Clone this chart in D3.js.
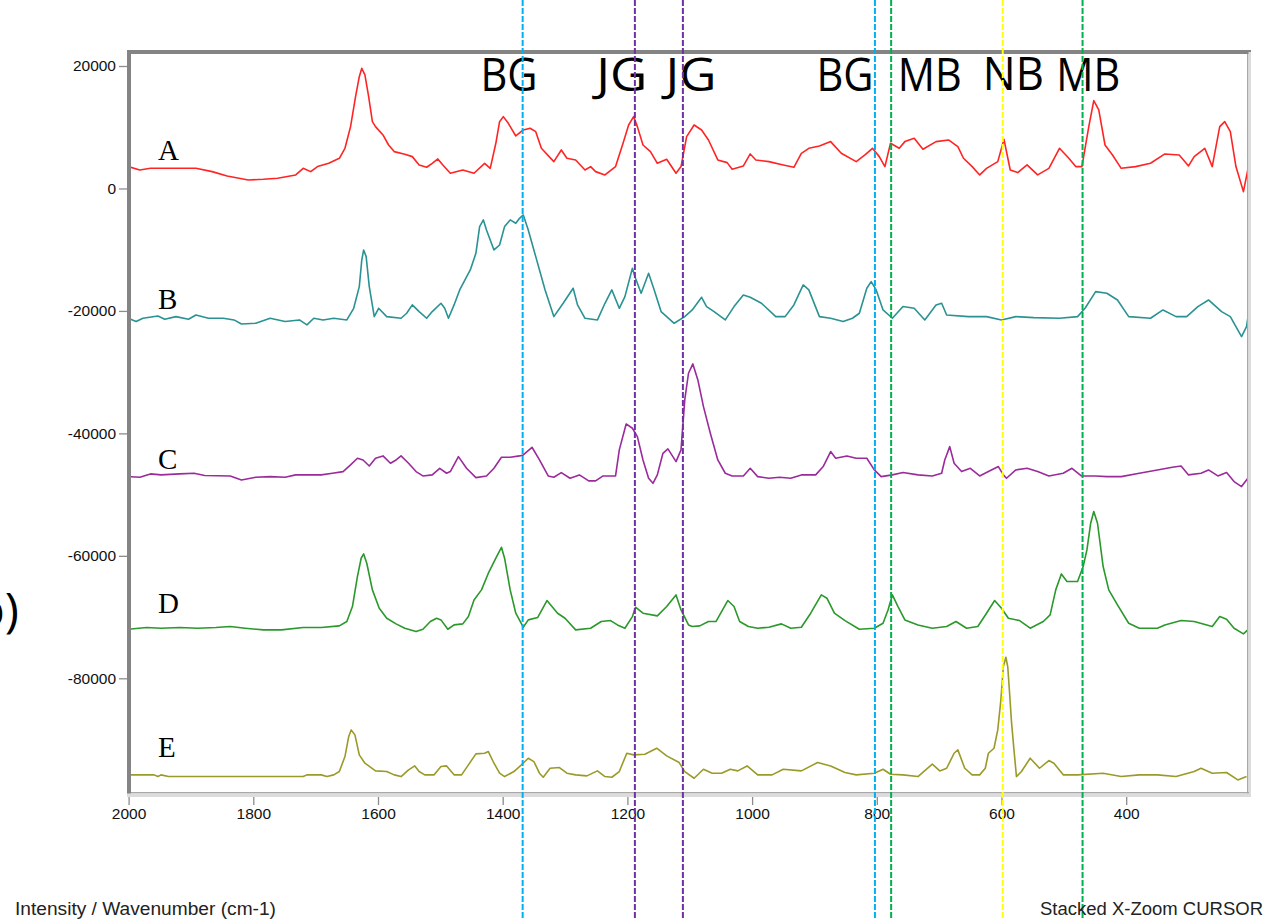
<!DOCTYPE html>
<html>
<head>
<meta charset="utf-8">
<script src="https://cdn.jsdelivr.net/npm/d3@7"></script>
<style>
  body { margin: 0; background: #fff; }
  svg { display: block; }
</style>
</head>
<body>
<svg id="chart"></svg>
<script>
"use strict";

// Spectra, [wavenumber (cm-1), intensity]
const specA = [
  [2000,3570],[1982,3020],[1965,3290],[1942,3290],[1918,3290],[1892,3290],[1866,2750],[1842,2040],[1808,1390],[1784,1500],
  [1761,1660],[1732,2210],[1720,3290],[1708,2750],[1697,3570],[1679,4110],[1662,4930],[1653,6560],[1644,10100],[1636,15000],
  [1630,18260],[1626,19620],[1621,18540],[1615,15000],[1609,10910],[1604,10100],[1592,8740],[1583,7100],[1574,6020],[1557,5580],
  [1545,5200],[1534,3840],[1522,3460],[1513,4110],[1504,4820],[1496,3840],[1484,2480],[1464,3020],[1446,2480],[1429,4110],
  [1420,3290],[1411,7380],[1405,10910],[1399,11730],[1391,10640],[1379,8570],[1367,9550],[1356,9830],[1347,9280],[1338,6560],
  [1318,4380],[1306,6290],[1297,4930],[1283,4660],[1268,3020],[1259,3570],[1251,2750],[1236,2210],[1219,3570],[1207,7380],
  [1198,10370],[1190,11730],[1184,10100],[1175,7100],[1163,6020],[1152,4110],[1137,4760],[1122,2480],[1114,3570],[1105,8470],
  [1093,10370],[1081,9550],[1070,7920],[1055,4660],[1040,4220],[1032,3130],[1014,3680],[1003,5640],[994,4660],[973,4380],
  [950,3840],[933,3460],[921,5740],[909,6560],[892,6940],[874,7650],[857,5740],[833,4380],[819,5470],[807,6560],
  [796,5200],[787,3570],[778,7380],[764,6560],[755,7650],[740,8190],[726,6400],[705,7650],[685,7920],[670,6830],
  [661,4930],[647,3570],[635,2210],[624,3290],[606,4380],[596,8030],[586,3020],[574,2590],[559,3840],[542,2210],
  [524,3290],[507,6560],[492,4930],[481,3570],[471,3570],[466,6560],[460,10100],[452,14340],[444,12820],[434,7100],
  [422,5470],[408,3290],[385,3570],[361,4110],[338,5640],[315,5470],[300,3680],[291,5200],[274,6560],[262,3570],
  [250,10100],[242,10910],[233,9280],[224,3570],[212,-520],[205,3020]
];

const specB = [
  [2000,-21200],[1988,-21740],[1977,-21200],[1953,-20820],[1942,-21360],[1924,-20930],[1904,-21360],[1892,-20660],[1872,-21200],[1848,-21200],
  [1831,-21470],[1819,-22130],[1796,-22020],[1773,-21200],[1749,-21740],[1726,-21470],[1714,-22290],[1703,-21200],[1688,-21470],[1671,-21200],
  [1650,-21470],[1639,-19570],[1630,-16030],[1626,-11670],[1623,-10040],[1619,-11130],[1614,-16030],[1606,-20930],[1599,-19570],[1586,-20930],
  [1563,-21200],[1554,-20380],[1545,-19020],[1534,-20110],[1522,-21200],[1513,-20110],[1499,-18750],[1493,-19570],[1487,-21200],[1478,-19020],
  [1469,-16570],[1452,-13310],[1443,-10590],[1437,-6230],[1431,-5140],[1426,-6780],[1414,-10040],[1405,-9230],[1397,-6230],[1388,-5140],
  [1379,-5690],[1373,-4870],[1367,-4330],[1359,-6780],[1347,-11130],[1332,-16570],[1318,-20930],[1303,-18750],[1287,-16300],[1280,-19020],
  [1268,-21200],[1248,-21470],[1236,-18750],[1225,-16570],[1213,-19570],[1204,-17660],[1192,-13040],[1187,-14670],[1178,-17120],[1166,-13850],
  [1157,-16570],[1146,-20110],[1125,-22020],[1108,-20930],[1096,-19840],[1081,-17770],[1073,-19290],[1061,-20110],[1043,-21470],[1029,-19290],
  [1014,-17390],[1003,-17770],[985,-18750],[962,-20930],[947,-20930],[933,-19020],[918,-15760],[909,-16570],[892,-20930],[874,-21200],
  [854,-21740],[839,-21200],[828,-20380],[816,-16300],[809,-15210],[801,-16570],[790,-19840],[775,-21200],[758,-19290],[740,-19570],
  [723,-21470],[705,-19020],[696,-18750],[688,-20660],[653,-20930],[624,-20930],[600,-21470],[577,-20930],[548,-21090],[507,-21200],
  [478,-20930],[466,-19570],[449,-16850],[431,-17120],[414,-18210],[396,-20930],[361,-21200],[341,-19840],[320,-20930],[303,-20930],
  [285,-19290],[268,-18210],[247,-20110],[233,-20930],[215,-24190],[207,-22560],[205,-21200]
];

const specC = [
  [2000,-47060],[1982,-47170],[1965,-46620],[1948,-46780],[1918,-46620],[1895,-46510],[1878,-46890],[1837,-46950],[1819,-47600],[1796,-47170],
  [1773,-47060],[1749,-47170],[1732,-46780],[1691,-46780],[1673,-46510],[1656,-46240],[1644,-45150],[1633,-44060],[1624,-44340],[1614,-45320],
  [1604,-44060],[1592,-43680],[1580,-44880],[1571,-44340],[1563,-43680],[1551,-44880],[1539,-46240],[1528,-46950],[1513,-46780],[1501,-45700],
  [1490,-46510],[1484,-46240],[1471,-43790],[1458,-45700],[1443,-47220],[1426,-46950],[1414,-45700],[1402,-43900],[1388,-43900],[1373,-43680],
  [1367,-43520],[1353,-42270],[1341,-44340],[1327,-46950],[1318,-47170],[1306,-46400],[1292,-47330],[1277,-46780],[1262,-47760],[1251,-47760],
  [1239,-46950],[1219,-46950],[1213,-42700],[1202,-38460],[1192,-39160],[1184,-40530],[1175,-44340],[1166,-47330],[1159,-48150],[1152,-46780],
  [1143,-43250],[1135,-42540],[1122,-44610],[1114,-42700],[1108,-34540],[1102,-30180],[1095,-28660],[1087,-31270],[1078,-35630],[1067,-39980],
  [1055,-44340],[1043,-46510],[1032,-46950],[1014,-46950],[1003,-45700],[991,-47060],[973,-47330],[956,-47170],[938,-47330],[921,-46780],
  [898,-46780],[886,-45420],[874,-42970],[866,-44060],[848,-43680],[833,-44060],[816,-44060],[804,-45970],[793,-47060],[775,-46780],
  [758,-46400],[734,-46780],[711,-46950],[696,-46510],[691,-44340],[683,-42160],[676,-44880],[664,-46240],[650,-45700],[635,-46950],
  [621,-46240],[605,-45420],[597,-46780],[592,-47330],[577,-45970],[559,-45700],[542,-46240],[524,-46950],[501,-46510],[487,-45700],
  [472,-46950],[449,-46950],[431,-47060],[408,-47060],[379,-46510],[350,-45970],[326,-45530],[312,-45320],[300,-46780],[280,-46510],
  [268,-45970],[253,-46950],[239,-46400],[227,-47870],[215,-48690],[205,-47330]
];

const specD = [
  [2000,-71990],[1971,-71710],[1948,-71820],[1918,-71710],[1889,-71820],[1860,-71710],[1837,-71550],[1813,-71820],[1784,-72090],[1755,-72090],
  [1720,-71710],[1691,-71710],[1662,-71440],[1650,-70730],[1641,-68280],[1633,-63390],[1627,-60390],[1623,-59680],[1618,-61210],[1609,-65560],
  [1598,-68560],[1586,-70190],[1571,-71110],[1557,-71820],[1539,-72370],[1528,-71990],[1516,-70730],[1506,-70190],[1499,-70460],[1488,-71990],
  [1478,-71280],[1464,-71110],[1455,-69920],[1446,-67200],[1434,-65560],[1423,-62840],[1411,-60390],[1402,-58600],[1397,-60390],[1388,-65560],
  [1379,-69370],[1367,-71660],[1359,-70460],[1344,-70080],[1329,-67300],[1321,-68280],[1312,-69370],[1300,-70190],[1283,-72090],[1259,-71820],
  [1242,-70730],[1227,-70570],[1216,-71280],[1204,-71820],[1192,-69920],[1187,-68390],[1175,-69370],[1152,-69810],[1137,-68280],[1122,-66380],
  [1114,-68830],[1102,-71280],[1096,-71550],[1084,-71440],[1070,-70730],[1058,-70730],[1049,-69100],[1039,-67300],[1029,-68280],[1020,-70730],
  [1006,-71550],[991,-71820],[973,-71660],[953,-71110],[938,-71820],[921,-71660],[906,-69370],[889,-66380],[880,-66920],[868,-69370],
  [851,-70570],[828,-71990],[804,-71820],[790,-71010],[782,-68830],[775,-66380],[766,-68280],[755,-70460],[734,-71280],[711,-71820],
  [688,-71550],[673,-70730],[656,-71820],[638,-71550],[624,-69370],[611,-67300],[600,-68560],[589,-70190],[571,-70570],[554,-71820],
  [533,-70730],[522,-69650],[513,-65560],[504,-62950],[495,-64200],[478,-64200],[469,-61750],[463,-59030],[457,-54680],[452,-52770],
  [446,-54680],[437,-61750],[428,-65560],[414,-68010],[396,-71010],[379,-71820],[350,-71820],[338,-71280],[312,-70570],[291,-70730],
  [262,-71550],[250,-69920],[239,-70350],[227,-71820],[212,-72750],[205,-72090]
];

const specE = [
  [2000,-95770],[1959,-95770],[1953,-96050],[1948,-95770],[1936,-96050],[1889,-96050],[1831,-96050],[1773,-96050],[1720,-96050],[1714,-95770],
  [1691,-95770],[1682,-96050],[1671,-95770],[1662,-95230],[1653,-92780],[1647,-89520],[1643,-88430],[1637,-89240],[1630,-92510],[1621,-93870],
  [1604,-95120],[1586,-95230],[1574,-95770],[1563,-96050],[1551,-94960],[1541,-94310],[1534,-95230],[1525,-95770],[1510,-95770],[1499,-94410],
  [1490,-94310],[1478,-95770],[1466,-95770],[1455,-94140],[1443,-92350],[1429,-92240],[1423,-91960],[1414,-93870],[1405,-95500],[1397,-96050],
  [1382,-95230],[1370,-94140],[1359,-93050],[1350,-93600],[1341,-95500],[1335,-96160],[1324,-94690],[1309,-94580],[1297,-95500],[1283,-95770],
  [1265,-95940],[1248,-95120],[1236,-96050],[1225,-96160],[1213,-95230],[1201,-92240],[1190,-92510],[1172,-92400],[1153,-91420],[1137,-92670],
  [1117,-93760],[1108,-95230],[1093,-96320],[1078,-94850],[1064,-95500],[1049,-95500],[1035,-94850],[1023,-95120],[1008,-94310],[991,-95770],
  [968,-95770],[950,-94850],[921,-95120],[895,-93760],[874,-94310],[851,-95390],[833,-95770],[804,-95500],[790,-94850],[778,-95670],
  [758,-95770],[734,-96050],[711,-94030],[699,-95120],[688,-94690],[676,-92240],[670,-91690],[659,-94690],[647,-95770],[635,-95770],
  [626,-94690],[621,-92240],[612,-91420],[606,-88430],[601,-83530],[597,-78080],[593,-76560],[590,-78080],[587,-82440],[584,-87070],
  [580,-91690],[576,-96050],[568,-95230],[554,-93050],[539,-94690],[524,-93430],[516,-93870],[501,-95770],[478,-95770],[437,-95500],
  [408,-96050],[379,-95770],[350,-95770],[320,-96050],[291,-95230],[280,-94690],[262,-95500],[239,-95390],[221,-96590],[207,-96050]
];

const seriesNames = ["A", "B", "C", "D", "E"];
const xTicks = [2000, 1800, 1600, 1400, 1200, 1000, 800, 600, 400];
const yTicks = [20000, 0, -20000, -40000, -60000, -80000];

// marker lines and their band labels (wavenumbers)
const markerNames = ["BG", "JG", "JG", "BG", "MB", "NB", "MB"];
const markerLines = [1368, 1188, 1111, 803, 777, 598, 470];
const markerLineKinds = ["BG", "JG", "JG", "BG", "MB", "NB", "MB"];
const labelCentres = [1390, 1209, 1098, 851, 715, 581, 461];

// ---- styles and layout ----
const W = 1268, H = 919;
const seriesColor = ["#ff2424", "#2a9292", "#9b2a9b", "#2a982a", "#9a9a28"];
const kindColor = { BG: "#00b0f0", JG: "#7030a0", MB: "#00b050", NB: "#ffff00" };
const labelBase = [160, 309, 469, 613, 757];
const labelWidth = { BG: 57, JG: 51, MB: 64, NB: 61 };

const svg = d3.select("#chart").attr("width", W).attr("height", H);
svg.append("rect").attr("width", W).attr("height", H).attr("fill", "#fff");

const x = d3.scaleLinear().domain([2000, 200]).range([128.6, 128.6 + 1800 * 0.6235]);
const y = d3.scaleLinear().domain([20000, -80000]).range([66, 678.3]);

const plot = { left: 131, top: 54, right: 1247, bottom: 792 };

svg.append("clipPath").attr("id", "plotclip")
  .append("rect")
  .attr("x", plot.left).attr("y", plot.top)
  .attr("width", plot.right - plot.left).attr("height", plot.bottom - plot.top);

const line = d3.line().x(d => x(d[0])).y(d => y(d[1]));

const specs = [specA, specB, specC, specD, specE];
svg.append("g").attr("clip-path", "url(#plotclip)")
  .selectAll("path")
  .data(specs)
  .join("path")
  .attr("d", line)
  .attr("fill", "none")
  .attr("stroke", (d, i) => seriesColor[i])
  .attr("stroke-width", 1.6)
  .attr("stroke-linejoin", "round");

// sunken frame
const frame = svg.append("g");
frame.append("rect").attr("x", 127).attr("y", 50).attr("width", 1124).attr("height", 4).attr("fill", "#848484");
frame.append("rect").attr("x", 127).attr("y", 50).attr("width", 4).attr("height", 747).attr("fill", "#848484");
frame.append("rect").attr("x", 1247).attr("y", 54).attr("width", 1.5).attr("height", 741).attr("fill", "#a8a8a8");
frame.append("rect").attr("x", 1248.5).attr("y", 52).attr("width", 2.5).attr("height", 745).attr("fill", "#dcdcdc");
frame.append("rect").attr("x", 131).attr("y", 792).attr("width", 1118).attr("height", 1.5).attr("fill", "#a8a8a8");
frame.append("rect").attr("x", 127).attr("y", 793.5).attr("width", 1124).attr("height", 3.5).attr("fill", "#dcdcdc");

// axes
const yAxis = svg.append("g")
  .attr("transform", "translate(127,0)")
  .call(d3.axisLeft(y).tickValues(yTicks).tickSize(8).tickPadding(3).tickFormat(d => String(d)));
const xAxis = svg.append("g")
  .attr("transform", "translate(0,797)")
  .call(d3.axisBottom(x).tickValues(xTicks).tickSize(8).tickPadding(3).tickFormat(d => String(d)));

[yAxis, xAxis].forEach(a => {
  a.select(".domain").remove();
  a.selectAll(".tick line").attr("stroke", "#8c8c8c").attr("stroke-width", 1.3);
  a.selectAll(".tick text")
    .attr("fill", "#111")
    .attr("font-family", "Liberation Sans, Arial, sans-serif")
    .attr("font-size", 15.5);
});

// series letters
svg.append("g").selectAll("text")
  .data(seriesNames)
  .join("text")
  .attr("x", 158)
  .attr("y", (d, i) => labelBase[i])
  .attr("font-family", "Liberation Serif, Times New Roman, serif")
  .attr("font-size", 29)
  .attr("fill", "#000")
  .text(d => d);

// band labels
svg.append("g").selectAll("text")
  .data(markerNames)
  .join("text")
  .attr("x", (d, i) => x(labelCentres[i]))
  .attr("y", (d, i) => d === "NB" ? 89.5 : 91)
  .attr("text-anchor", "middle")
  .attr("font-family", "Open Sans, Noto Sans, sans-serif")
  .attr("font-size", 45)
  .attr("textLength", d => labelWidth[d])
  .attr("lengthAdjust", "spacingAndGlyphs")
  .attr("fill", "#000")
  .text(d => d);

// dashed marker lines across the whole picture
svg.append("g").selectAll("line")
  .data(markerLines)
  .join("line")
  .attr("x1", d => x(d)).attr("x2", d => x(d))
  .attr("y1", 0).attr("y2", H)
  .attr("stroke", (d, i) => kindColor[markerLineKinds[i]])
  .attr("stroke-width", 2)
  .attr("stroke-dasharray", "6,2");

// captions
svg.append("text")
  .attr("x", 15).attr("y", 915)
  .attr("font-family", "Liberation Sans, Arial, sans-serif")
  .attr("font-size", 17.5)
  .attr("textLength", 261)
  .attr("lengthAdjust", "spacingAndGlyphs")
  .attr("fill", "#222")
  .text("Intensity / Wavenumber (cm-1)");

svg.append("text")
  .attr("x", 1263).attr("y", 915)
  .attr("text-anchor", "end")
  .attr("font-family", "Liberation Sans, Arial, sans-serif")
  .attr("font-size", 17.5)
  .attr("textLength", 223)
  .attr("lengthAdjust", "spacingAndGlyphs")
  .attr("fill", "#222")
  .text("Stacked X-Zoom CURSOR");

// panel tag, cut off at the left edge as in the source figure
svg.append("text")
  .attr("x", 19).attr("y", 627)
  .attr("text-anchor", "end")
  .attr("font-family", "Open Sans, Noto Sans, sans-serif")
  .attr("font-size", 48)
  .attr("fill", "#000")
  .text("b)");
</script>
</body>
</html>
